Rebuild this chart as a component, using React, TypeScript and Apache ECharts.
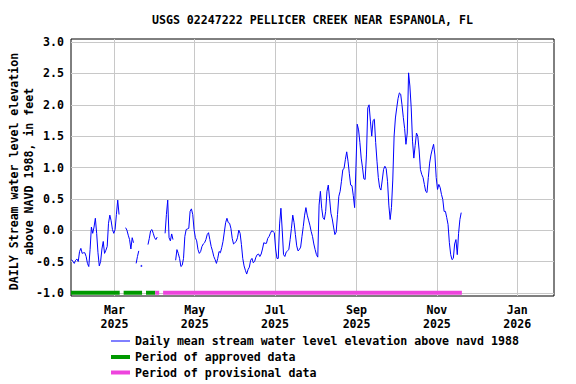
import React, { useEffect, useRef } from "react";
import * as echarts from "echarts";

const TITLE = "USGS 02247222 PELLICER CREEK NEAR ESPANOLA, FL";
const Y_TITLE = "DAILY Stream water level elevation\nabove NAVD 1988, in feet";
const LEGEND_LABELS = [
  "Daily mean stream water level elevation above navd 1988",
  "Period of approved data",
  "Period of provisional data",
];

// Daily mean values (feet), first value is 2025-01-27; null = no data
const FIRST_DAY = "2025-01-27";
const levelJan = [-0.47, -0.5, -0.53, -0.48, -0.46];
const levelFeb = [
  -0.5, -0.34, -0.29, -0.37, -0.36, -0.36, -0.42, -0.53, -0.58, -0.31,
  0.05, -0.05, 0.05, 0.19, -0.05, -0.36, -0.57, -0.5, -0.3, -0.18,
  -0.37, -0.32, -0.26, 0.11, 0.24, 0.15, 0.01, -0.05,
];
const levelMar = [
  0.01, 0.25, 0.48, 0.25, null, null, null, null, 0.04, 0.0,
  -0.08, -0.15, -0.3, -0.12, -0.2, null, -0.53, -0.42, -0.33, null,
  -0.57, null, null, null, null, -0.23, -0.13, -0.01, 0.01, -0.05,
  -0.12,
];
const levelApr = [
  -0.15, -0.11, null, null, null, null, null, -0.05, 0.25, 0.48,
  -0.12, -0.17, -0.06, -0.15, null, -0.48, -0.31, -0.37, -0.45, -0.58,
  -0.56, -0.45, -0.1, 0.01, 0.02, 0.03, 0.3, 0.34, 0.25, 0.01,
];
const levelMay = [
  -0.12, -0.17, -0.31, -0.37, -0.34, -0.26, -0.22, -0.2, -0.15, -0.07,
  -0.04, -0.15, -0.26, -0.33, -0.42, -0.47, -0.53, -0.45, -0.34, -0.36,
  -0.28, -0.18, -0.03, 0.12, 0.19, 0.12, 0.11, 0.03, -0.13, -0.22,
  -0.2,
];
const levelJun = [
  -0.18, -0.12, 0.0, -0.05, -0.23, -0.45, -0.57, -0.64, -0.7, -0.63,
  -0.59, -0.48, -0.45, -0.52, -0.5, -0.43, -0.39, -0.38, -0.42, -0.38,
  -0.3, -0.2, -0.21, -0.21, -0.13, -0.1, -0.05, -0.01, -0.02, -0.04,
];
const levelJul = [
  -0.3, -0.45, -0.45, 0.1, 0.35, 0.0, -0.39, -0.42, -0.35, -0.33,
  -0.31, -0.15, 0.03, 0.24, 0.12, -0.07, -0.25, -0.33, -0.31, -0.27,
  -0.1, 0.06, 0.24, 0.36, 0.24, 0.16, 0.08, -0.02, -0.1, -0.22,
  -0.31,
];
const levelAug = [
  -0.39, -0.43, 0.4, 0.62, 0.35, 0.2, 0.17, 0.3, 0.62, 0.72,
  0.5, 0.27, 0.18, 0.05, -0.07, -0.03, 0.25, 0.54, 0.62, 0.78,
  0.96, 0.99, 1.13, 1.25, 1.1, 0.9, 0.72, 0.71, 0.55, 0.36,
  1.0,
];
const levelSep = [
  1.69, 1.6, 1.4, 1.15, 1.0, 0.82, 0.81, 1.2, 1.95, 2.0,
  1.74, 1.5, 1.75, 1.77, 1.4, 1.1, 0.84, 0.68, 0.64, 0.8,
  0.97, 1.02, 0.98, 0.78, 0.4, 0.17, 0.36, 0.8, 1.5, 1.79,
];
const levelOct = [
  1.95, 2.1, 2.19, 2.17, 2.0, 1.8, 1.62, 1.37, 1.55, 2.51,
  2.3, 1.95, 1.42, 1.15, 1.35, 1.55, 1.5, 1.28, 0.97, 0.89,
  0.84, 0.73, 0.62, 0.6, 0.84, 1.07, 1.2, 1.29, 1.37, 1.2,
  0.84,
];
const levelNov = [
  0.65, 0.73, 0.68, 0.57, 0.49, 0.3, 0.3, 0.2, 0.09, -0.2,
  -0.39, -0.47, -0.45, -0.22, -0.15, -0.39, -0.05, 0.17, 0.28,
];

const approvedPeriods = [
  ["2025-01-27", "2025-03-04"],
  ["2025-03-08", "2025-03-21"],
  ["2025-03-25", "2025-03-31"],
];
const provisionalPeriods = [
  ["2025-04-01", "2025-04-03"],
  ["2025-04-07", "2025-11-19"],
];

const X_RANGE = ["2025-01-27", "2026-01-29"];
const xTicks = ["2025-03-01", "2025-05-01", "2025-07-01", "2025-09-01", "2025-11-01", "2026-01-01"];
const xTickLabels = ["Mar\n2025", "May\n2025", "Jul\n2025", "Sep\n2025", "Nov\n2025", "Jan\n2026"];
const Y_RANGE = [-1.05, 3.05];
const yTicks = [-1, -0.5, 0, 0.5, 1, 1.5, 2, 2.5, 3];
const PERIOD_LEVEL = -1;

const LINE_COLOR = "#0000ff";
const APPROVED_COLOR = "#009900";
const PROVISIONAL_COLOR = "#ee44dd";
const FONT = "DejaVu Sans Mono";
const DAY = 86400000;

function parseDay(s: string, hour = 0): number {
  const [y, m, d] = s.split("-").map(Number);
  return new Date(y, m - 1, d, hour).getTime();
}

function buildLevelData() {
  const values = [
    ...levelJan, ...levelFeb, ...levelMar, ...levelApr, ...levelMay, ...levelJun,
    ...levelJul, ...levelAug, ...levelSep, ...levelOct, ...levelNov,
  ];
  const [y, m, d] = FIRST_DAY.split("-").map(Number);
  const line: any[] = [];
  const isolated: any[] = [];
  values.forEach((v, i) => {
    const t = new Date(y, m - 1, d + i, 12).getTime();
    line.push([t, v === null ? "-" : v]);
    const prev = i > 0 ? values[i - 1] : null;
    const next = i < values.length - 1 ? values[i + 1] : null;
    if (v !== null && prev === null && next === null) isolated.push([t, v]);
  });
  return { line, isolated };
}

function buildPeriodData(periods: string[][]) {
  const out: any[] = [];
  periods.forEach(([s, e]) => {
    const t0 = parseDay(s);
    const t1 = parseDay(e) + DAY;
    out.push([t0, PERIOD_LEVEL], [t1, PERIOD_LEVEL], [t1, "-"]);
  });
  return out;
}

export default function App() {
  const ref = useRef<HTMLDivElement>(null);

  useEffect(() => {
    if (!ref.current) return;
    const chart = echarts.init(ref.current, undefined, { renderer: "svg" });
    const { line, isolated } = buildLevelData();
    const tickTimes = xTicks.map((s) => parseDay(s));
    const textBase = { fontFamily: FONT, fontWeight: "bold" as const, fontSize: 11.6, color: "#000" };

    const legendY = [341, 357, 372.5];
    const legendColors = [LINE_COLOR, APPROVED_COLOR, PROVISIONAL_COLOR];
    const legendWidths = [1, 4, 4];

    const graphic: any[] = [
      {
        type: "text",
        x: 312.5,
        y: 19.5,
        style: { text: TITLE, align: "center", verticalAlign: "middle", fontFamily: FONT, fontWeight: "bold", fontSize: 11.6, fill: "#000" },
      },
      {
        type: "text",
        x: 21,
        y: 171.5,
        rotation: Math.PI / 2,
        style: { text: Y_TITLE, align: "center", verticalAlign: "middle", lineHeight: 15, fontFamily: FONT, fontWeight: "bold", fontSize: 11.6, fill: "#000" },
      },
    ];
    LEGEND_LABELS.forEach((label, i) => {
      graphic.push({
        type: "line",
        shape: { x1: 111, y1: legendY[i], x2: 130, y2: legendY[i] },
        style: { stroke: legendColors[i], lineWidth: legendWidths[i] },
      });
      graphic.push({
        type: "text",
        x: 135,
        y: legendY[i],
        style: { text: label, align: "left", verticalAlign: "middle", fontFamily: FONT, fontWeight: "bold", fontSize: 11.6, fill: "#000" },
      });
    });

    chart.setOption({
      animation: false,
      backgroundColor: "#fff",
      grid: { left: 71, right: 22, top: 39, bottom: 88, show: true, borderColor: "#000", borderWidth: 1, backgroundColor: "#fff" },
      xAxis: {
        type: "value",
        min: parseDay(X_RANGE[0]),
        max: parseDay(X_RANGE[1]),
        axisLine: { show: false },
        axisTick: { show: false, customValues: tickTimes },
        splitLine: { show: true, lineStyle: { color: "#c8c8c8", width: 1 } },
        axisLabel: {
          ...textBase,
          customValues: tickTimes,
          margin: 7,
          lineHeight: 14,
          formatter: (v: number) => {
            const idx = tickTimes.findIndex((t) => Math.abs(t - v) < DAY / 2);
            return idx >= 0 ? xTickLabels[idx] : "";
          },
        },
      },
      yAxis: {
        type: "value",
        min: Y_RANGE[0],
        max: Y_RANGE[1],
        axisLine: { show: false },
        axisTick: { show: false, customValues: yTicks },
        splitLine: { show: true, lineStyle: { color: "#c8c8c8", width: 1 } },
        axisLabel: {
          ...textBase,
          customValues: yTicks,
          margin: 7,
          formatter: (v: number) => v.toFixed(1),
        },
      },
      series: [
        {
          name: LEGEND_LABELS[1],
          type: "line",
          data: buildPeriodData(approvedPeriods),
          symbol: "none",
          connectNulls: false,
          lineStyle: { color: APPROVED_COLOR, width: 4, cap: "butt" },
          z: 3,
        },
        {
          name: LEGEND_LABELS[2],
          type: "line",
          data: buildPeriodData(provisionalPeriods),
          symbol: "none",
          connectNulls: false,
          lineStyle: { color: PROVISIONAL_COLOR, width: 4, cap: "butt" },
          z: 3,
        },
        {
          name: LEGEND_LABELS[0],
          type: "line",
          data: line,
          symbol: "none",
          connectNulls: false,
          lineStyle: { color: LINE_COLOR, width: 1 },
          z: 4,
        },
        {
          name: LEGEND_LABELS[0] + " (isolated)",
          type: "scatter",
          data: isolated,
          symbol: "rect",
          symbolSize: [1.5, 2],
          itemStyle: { color: LINE_COLOR },
          z: 4,
        },
      ],
      graphic,
    });

    return () => chart.dispose();
  }, []);

  return (
    <div
      ref={ref}
      style={{ position: "fixed", left: 0, top: 0, width: 576, height: 384, background: "#fff" }}
    />
  );
}
